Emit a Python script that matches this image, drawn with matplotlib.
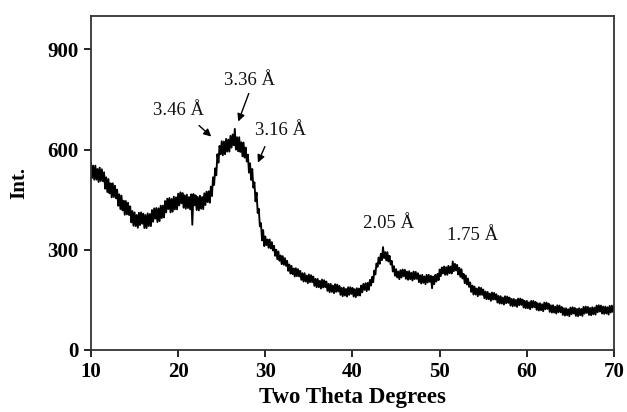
import numpy as np
import matplotlib
matplotlib.use('Agg')
import matplotlib.pyplot as plt

plt.rcParams['font.family'] = ['Liberation Serif', 'DejaVu Serif']

# XRD intensity, every 0.125 degree from 10 to 70 (one row per degree)
intensity = [
    560, 515, 552, 510, 552, 510, 542, 503,   # 10
    546, 506, 541, 505, 532, 483, 517, 473,   # 11
    512, 469, 499, 457, 499, 458, 492, 454,   # 12
    480, 432, 466, 422, 462, 418, 447, 405,   # 13
    446, 406, 441, 404, 430, 382, 416, 372,   # 14
    412, 371, 404, 366, 411, 374, 412, 378,   # 15
    408, 365, 404, 365, 409, 371, 407, 371,   # 16
    419, 384, 424, 393, 425, 383, 424, 386,   # 17
    432, 395, 432, 397, 446, 412, 453, 422,   # 18
    455, 412, 452, 414, 459, 421, 457, 421,   # 19
    468, 433, 472, 439, 470, 426, 463, 423,   # 20
    465, 425, 458, 421, 466, 375, 467, 433,   # 21
    463, 419, 458, 418, 462, 423, 458, 422,   # 22
    469, 434, 474, 443, 475, 441, 489, 461,   # 23
    517, 494, 544, 523, 586, 561, 611, 586,   # 24
    625, 583, 624, 586, 632, 594, 630, 594,   # 25
    641, 606, 645, 613, 662, 600, 637, 595,   # 26
    637, 593, 622, 580, 621, 576, 606, 564,   # 27
    585, 531, 559, 509, 542, 486, 502, 445,   # 28
    471, 410, 423, 370, 380, 328, 359, 311,   # 29
    340, 314, 331, 306, 331, 304, 323, 298,   # 30
    312, 282, 300, 272, 295, 267, 283, 257,   # 31
    281, 255, 275, 252, 267, 237, 256, 229,   # 32
    252, 227, 244, 220, 245, 221, 242, 220,   # 33
    237, 210, 230, 205, 230, 205, 223, 200,   # 34
    226, 203, 224, 203, 220, 192, 213, 188,   # 35
    213, 188, 207, 184, 211, 187, 209, 188,   # 36
    205, 177, 198, 173, 198, 174, 193, 170,   # 37
    197, 174, 196, 175, 192, 165, 186, 161,   # 38
    187, 163, 183, 160, 188, 165, 188, 168,   # 39
    186, 160, 182, 158, 185, 163, 184, 163,   # 40
    193, 173, 198, 180, 200, 176, 201, 180,   # 41
    210, 193, 219, 203, 238, 226, 259, 249,   # 42
    277, 258, 288, 269, 308, 275, 293, 268,   # 43
    293, 265, 282, 256, 267, 235, 251, 222,   # 44
    242, 217, 235, 212, 239, 217, 241, 221,   # 45
    240, 213, 235, 210, 236, 212, 231, 208,   # 46
    235, 212, 234, 213, 230, 203, 224, 199,   # 47
    225, 201, 220, 197, 225, 202, 225, 204,   # 48
    222, 185, 220, 197, 225, 205, 228, 209,   # 49
    241, 221, 247, 229, 250, 225, 248, 225,   # 50
    252, 230, 250, 229, 265, 236, 258, 238,   # 51
    255, 226, 246, 219, 242, 214, 228, 200,   # 52
    223, 196, 214, 189, 202, 174, 193, 166,   # 53
    190, 166, 184, 161, 188, 165, 186, 165,   # 54
    181, 155, 175, 152, 174, 152, 169, 147,   # 55
    172, 151, 171, 151, 167, 142, 162, 139,   # 56
    161, 139, 157, 136, 161, 140, 160, 141,   # 57
    157, 133, 153, 131, 153, 132, 150, 129,   # 58
    154, 134, 154, 135, 151, 127, 147, 125,   # 59
    147, 125, 143, 122, 147, 127, 147, 128,   # 60
    144, 120, 140, 118, 140, 119, 137, 116,   # 61
    142, 122, 142, 123, 139, 114, 134, 112,   # 62
    134, 112, 130, 109, 134, 113, 133, 113,   # 63
    129, 105, 125, 103, 125, 104, 122, 101,   # 64
    127, 107, 128, 109, 126, 102, 123, 101,   # 65
    125, 104, 123, 102, 129, 109, 130, 111,   # 66
    129, 105, 126, 104, 128, 107, 127, 106,   # 67
    133, 113, 134, 115, 133, 109, 130, 108,   # 68
    130, 109, 128, 106, 132, 112, 133, 114,   # 69
    131,                                      # 70
]
two_theta = np.linspace(10, 70, len(intensity))

# d-spacing labels, their positions and arrows (tail -> head)
peak_labels = ['3.46 Å', '3.36 Å', '3.16 Å', '2.05 Å', '1.75 Å']
label_pos = [(20.1, 717), (28.2, 807), (31.7, 657), (44.2, 378), (53.8, 342)]
arrow_tail = [(22.4, 672), (28.1, 768), (29.95, 609), None, None]
arrow_head = [(23.8, 639), (26.9, 684), (29.15, 561), None, None]

fig = plt.figure(figsize=(6.27, 4.12), dpi=100)
ax = fig.add_axes([0.1451, 0.1505, 0.8342, 0.8107])

ax.plot(two_theta, intensity, color='black', lw=1.35)

for lab, (tx, ty), tail, head in zip(peak_labels, label_pos, arrow_tail, arrow_head):
    ax.text(tx, ty, lab, fontsize=13.5, ha='center', va='center', color='#111')
    if tail is not None:
        ax.annotate('', xy=head, xytext=tail,
                    arrowprops=dict(arrowstyle='-|>', color='black', lw=1.0,
                                    mutation_scale=11, shrinkA=0, shrinkB=0))

ax.set_xlim(10, 70)
ax.set_ylim(0, 1000)
ax.set_xticks([10, 20, 30, 40, 50, 60, 70])
ax.set_yticks([0, 300, 600, 900])
ax.tick_params(direction='out', length=5, width=1.2, labelsize=15, pad=4,
               top=False, right=False)
for lbl in ax.get_xticklabels() + ax.get_yticklabels():
    lbl.set_fontweight('bold')
for sp in ax.spines.values():
    sp.set_linewidth(1.3)
    sp.set_color('#333')

ax.set_xlabel('Two Theta Degrees', fontsize=16.5, fontweight='bold', labelpad=3)
ax.set_ylabel('Int.', fontsize=15, fontweight='bold', labelpad=13)

fig.savefig('out.png', dpi=100, facecolor='white')
